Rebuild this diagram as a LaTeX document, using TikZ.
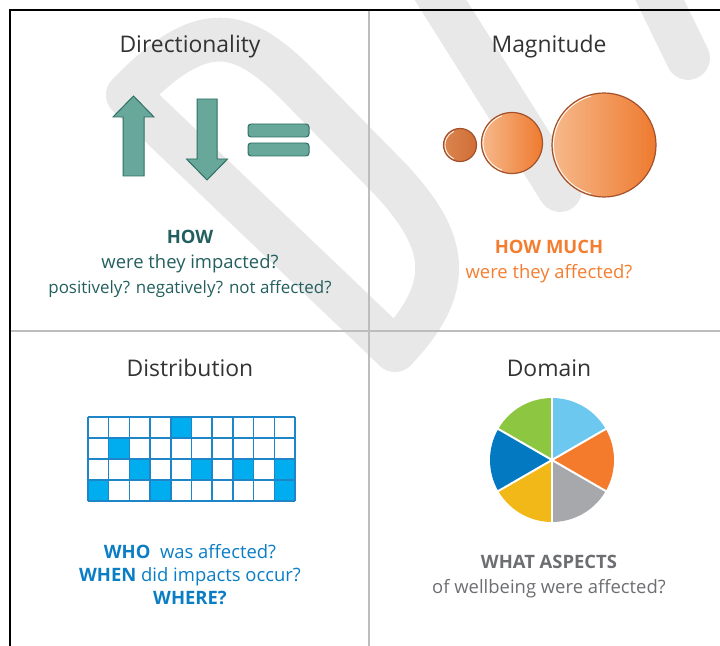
\documentclass[tikz,border=0pt]{standalone}
\usepackage{fontspec}
\setmainfont{Open Sans}
\usetikzlibrary{calc}

\definecolor{wmark}{HTML}{E8E8E8}
\definecolor{divgray}{HTML}{BDBDBD}
\definecolor{titlegray}{HTML}{333333}
\definecolor{dirfill}{HTML}{67A89A}
\definecolor{dirline}{HTML}{2F6F65}
\definecolor{dirtext}{HTML}{235F5E}
\definecolor{magtext}{HTML}{F47D30}
\definecolor{ballhi}{HTML}{F6B98C}
\definecolor{balllo}{HTML}{EE7A2E}
\definecolor{balledge}{HTML}{A3512A}
\definecolor{smallball}{HTML}{DB8550}
\definecolor{smallballlo}{HTML}{D06E36}
\definecolor{disttext}{HTML}{0A7DC5}
\definecolor{cellblue}{HTML}{00AEEF}
\definecolor{gridblue}{HTML}{1E86C8}
\definecolor{domtext}{HTML}{6D6E71}
\definecolor{pielblue}{HTML}{6DC8F0}
\definecolor{pieorange}{HTML}{F47B2B}
\definecolor{piegray}{HTML}{A7A8AB}
\definecolor{pieyellow}{HTML}{F2B817}
\definecolor{pieblue}{HTML}{0279C1}
\definecolor{piegreen}{HTML}{8DC641}

\begin{document}
\begin{tikzpicture}[x=1bp,y=-1bp]
\tikzset{title/.style = {anchor=base, text=titlegray, font=\fontsize{23}{27}\selectfont},
  line/.style = {anchor=base, font=\fontsize{18.5}{24}\selectfont},
  ball/.style = {draw=balledge, line width=1.2, left color=ballhi, right color=balllo}}
\useasboundingbox (0,0) rectangle (720,646);

% watermark letters
\begin{scope}[draw=wmark, line width=44, line cap=round, line join=round]
\draw (128,95) -- (395,350);
\draw (128,95) .. controls (204,15) and (243,32) .. (294,81) -- (392,181) .. controls (446,240) and (457,285) .. (395,350);
\draw (428,-20) -- (560,190);
\draw (650,-20) -- (688,58);
\end{scope}

% frame
\draw[divgray, line width=2] (369,10) -- (369,646);
\draw[divgray, line width=2] (10,331) -- (720,331);
\draw[black, line width=2] (10,646) -- (10,10) -- (720,10);

% directionality
\node[title] (dirtitle) at (190,53) {Directionality};
\begin{scope}[fill=dirfill, draw=dirline, line width=1]
\filldraw (123,176) -- (123,117) -- (113,117) -- (133.5,96) -- (154,117) -- (144,117) -- (144,176) -- cycle;
\filldraw (197,99) -- (217,99) -- (217,159) -- (227.5,159) -- (207,180) -- (186.5,159) -- (197,159) -- cycle;
\filldraw[rounded corners=3] (248,124) rectangle (309,137);
\filldraw[rounded corners=3] (248,143) rectangle (309,156);
\end{scope}
\node[line, text=dirtext] (how) at (190,243) {\textbf{HOW}};
\node[line, text=dirtext] (howa) at (190,268) {were they impacted?};
\node[line, text=dirtext, font=\fontsize{17}{24}\selectfont] (howb) at (190,293) {positively? negatively? not affected?};

% magnitude
\node[title] (magtitle) at (549,53) {Magnitude};
\coordinate (b1) at (460,145);
\coordinate (b2) at (512,143);
\coordinate (b3) at (604,145);
\shade[ball, left color=smallball, right color=smallballlo] (b1) circle (16.5);
\shade[ball] (b2) circle (30.5);
\shade[ball] (b3) circle (52);
\draw[white, line width=0.8] (b1) ++(115:15) arc (115:245:15);
\draw[white, line width=0.8] (b2) ++(110:29) arc (110:250:29);
\draw[white, line width=0.8] (b3) ++(105:50.5) arc (105:255:50.5);
\node[line, text=magtext] (howmuch) at (549,253) {\textbf{HOW MUCH}};
\node[line, text=magtext] (howmucha) at (549,278) {were they affected?};

% distribution
\node[title] (disttitle) at (190,376) {Distribution};
\foreach \c/\r in {4/0, 1/1, 2/2, 5/2, 7/2, 9/2, 0/3, 3/3, 9/3}
  \fill[cellblue] (88+\c*20.7,417+\r*21) rectangle ++(20.7,21);
\foreach \c in {0,...,10}
  \draw[gridblue, line width=1.5] (88+\c*20.7,417) -- ++(0,84);
\foreach \r in {0,...,4}
  \draw[gridblue, line width=1.5] (88,417+\r*21) -- ++(207,0);
\node[line, text=disttext] (who) at (190,558) {\textbf{WHO}\ \ was affected?};
\node[line, text=disttext] (when) at (190,581) {\textbf{WHEN} did impacts occur?};
\node[line, text=disttext] (where) at (190,604) {\textbf{WHERE?}};

% domain
\node[title] (domtitle) at (549,376) {Domain};
\coordinate (pc) at (552,460);
\foreach \a/\col in {-90/pielblue, -30/pieorange, 30/piegray, 90/pieyellow, 150/pieblue, 210/piegreen}
  \fill[\col] (pc) -- ++(\a:62) arc (\a:\a+60:62) -- cycle;
\foreach \a in {-90,-30,...,210}
  \draw[white, line width=2] (pc) -- ++(\a:62.5);
\node[line, text=domtext] (what) at (549,568) {\textbf{WHAT ASPECTS}};
\node[line, text=domtext] (whata) at (549,593) {of wellbeing were affected?};
\end{tikzpicture}
\end{document}
